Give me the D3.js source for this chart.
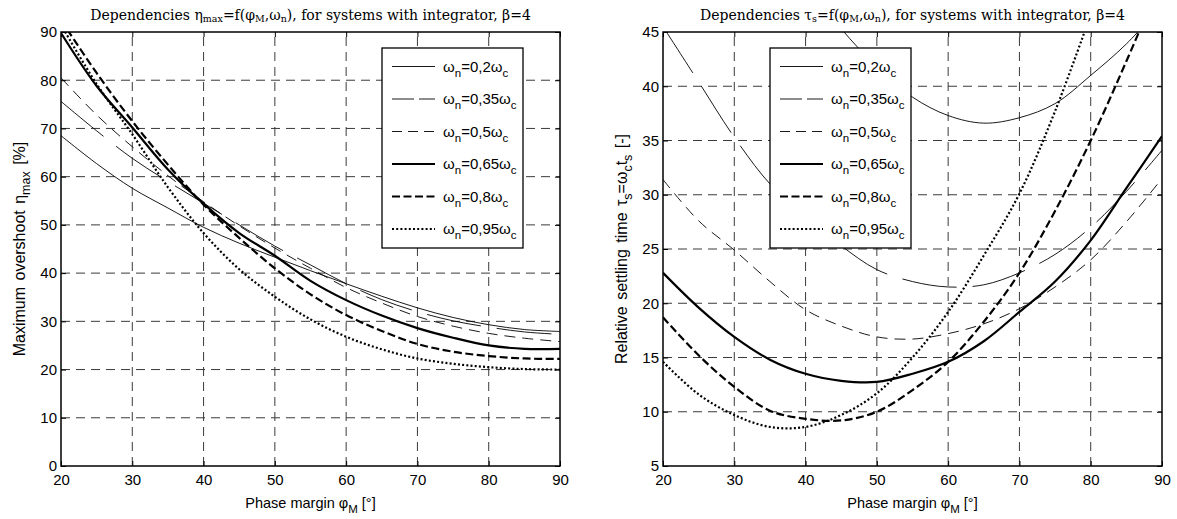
<!DOCTYPE html>
<html>
<head>
<meta charset="utf-8">
<script src="https://cdn.jsdelivr.net/npm/d3@7/dist/d3.min.js"></script>
<style>
  body { margin: 0; background: #fff; }
  text { font-family: "Liberation Sans", Arial, sans-serif; fill: #000; }
  .title { font-family: "DejaVu Serif", "Liberation Serif", serif; }
</style>
</head>
<body>
<script>
// phase margin samples (deg)
const phi = [20, 25, 30, 35, 40, 45, 50, 55, 60, 65, 70, 75, 80, 85, 90];

// maximum overshoot eta_max [%]
const eta02  = [68.5, 62.7, 57.6, 53.5, 49.5, 46.2, 43.3, 40.5, 37.8, 35.2, 32.8, 30.8, 29.3, 28.3, 27.9];
const eta035 = [75.6, 69.5, 63.8, 59.0, 54.5, 50.0, 45.6, 41.7, 37.8, 34.5, 32.0, 30.1, 28.8, 27.8, 27.3];
const eta05  = [80.5, 72.8, 66.2, 60.2, 54.8, 49.8, 45.2, 41.0, 37.0, 33.8, 31.0, 29.0, 27.5, 26.5, 25.8];
const eta065 = [89.8, 78.8, 70.2, 61.5, 54.4, 48.3, 43.6, 38.4, 34.4, 31.2, 28.6, 26.6, 25.0, 24.3, 24.3];
const eta08  = [92.5, 81.5, 71.5, 62.5, 54.2, 47.3, 41.0, 35.6, 31.3, 28.0, 25.3, 23.7, 22.8, 22.3, 22.2];
const eta095 = [91.5, 79.2, 68.8, 57.8, 48.3, 40.8, 35.1, 30.4, 26.8, 24.2, 22.3, 21.2, 20.5, 20.1, 20.0];

// relative settling time tau_s [-]
const tau02  = [null, null, null, null, 49.6, 45.3, 41.8, 39.0, 37.3, 36.6, 37.1, 38.4, 41.0, 43.9, 47.5];
const tau035 = [45.5, 40.4, 35.3, 31.0, 28.0, 25.3, 23.1, 22.0, 21.5, 21.7, 22.8, 24.5, 27.0, 30.3, 34.1];
const tau05  = [31.4, 27.6, 24.9, 22.0, 19.4, 17.9, 16.9, 16.7, 17.2, 18.1, 19.5, 21.5, 24.0, 27.5, 31.5];
const tau065 = [22.8, 19.6, 16.9, 14.8, 13.5, 12.85, 12.75, 13.5, 14.6, 16.5, 19.2, 22.0, 25.8, 30.6, 35.4];
const tau08  = [18.7, 15.2, 12.3, 10.1, 9.35, 9.2, 10.0, 12.0, 14.6, 18.3, 22.8, 28.5, 35.0, 42.3, 50.0];
const tau095 = [14.6, 11.6, 9.7, 8.6, 8.6, 9.7, 11.7, 15.0, 19.2, 24.4, 30.1, 37.7, 46.6, null, null];

const omegaLabels = ["0,2", "0,35", "0,5", "0,65", "0,8", "0,95"];

const xTicks = [20, 30, 40, 50, 60, 70, 80, 90];
const etaTicks = [0, 10, 20, 30, 40, 50, 60, 70, 80, 90];
const tauTicks = [5, 10, 15, 20, 25, 30, 35, 40, 45];

// line styles, same order as omegaLabels
const styles = [
  { w: 0.9, dash: null, legendDash: null },
  { w: 0.9, dash: "55,16", legendDash: "22,5" },
  { w: 0.9, dash: "11,7", legendDash: "10,6" },
  { w: 2.2, dash: null, legendDash: null },
  { w: 2.2, dash: "8,3.5", legendDash: "8,3.5" },
  { w: 2.2, dash: "2,2.2", legendDash: "2,2.2" }
];

const svg = d3.select("body").append("svg")
  .attr("width", 1177)
  .attr("height", 519);

function drawPanel(opts) {
  const x = d3.scaleLinear().domain([20, 90]).range(opts.xRange);
  const y = d3.scaleLinear().domain(opts.yDomain).range([466, 32]);
  const g = svg.append("g");
  const [x0, x1] = opts.xRange;

  // grid
  g.append("g").selectAll("line")
    .data(xTicks.slice(1, -1))
    .enter().append("line")
    .attr("x1", d => x(d)).attr("x2", d => x(d))
    .attr("y1", y.range()[0]).attr("y2", y.range()[1])
    .attr("stroke", "#3a3a3a").attr("stroke-width", 1)
    .attr("stroke-dasharray", "9,6");
  g.append("g").selectAll("line")
    .data(opts.yTicks.slice(1, -1))
    .enter().append("line")
    .attr("x1", x0).attr("x2", x1)
    .attr("y1", d => y(d)).attr("y2", d => y(d))
    .attr("stroke", "#3a3a3a").attr("stroke-width", 1)
    .attr("stroke-dasharray", "9,6");

  // curves
  const clipId = "clip" + opts.id;
  g.append("clipPath").attr("id", clipId)
    .append("rect")
    .attr("x", x0).attr("y", 32)
    .attr("width", x1 - x0).attr("height", 466 - 32);

  const line = d3.line()
    .defined(d => d[1] != null)
    .x(d => x(d[0]))
    .y(d => y(d[1]))
    .curve(d3.curveCatmullRom.alpha(0.5));

  opts.series.forEach((vals, i) => {
    const pts = phi.map((p, j) => [p, vals[j]]);
    g.append("path")
      .attr("clip-path", "url(#" + clipId + ")")
      .attr("d", line(pts))
      .attr("fill", "none")
      .attr("stroke", "#000")
      .attr("stroke-width", styles[i].w)
      .attr("stroke-dasharray", styles[i].dash);
  });

  // axes with inward ticks
  const bottom = g.append("g")
    .attr("transform", "translate(0,466)")
    .call(d3.axisBottom(x).tickValues(xTicks).tickSizeInner(-5).tickSizeOuter(0).tickPadding(8));
  const left = g.append("g")
    .attr("transform", "translate(" + x0 + ",0)")
    .call(d3.axisLeft(y).tickValues(opts.yTicks).tickSizeInner(-5).tickSizeOuter(0).tickPadding(4));
  g.append("g")
    .attr("transform", "translate(0,32)")
    .call(d3.axisTop(x).tickValues(xTicks).tickSizeInner(-5).tickSizeOuter(0).tickFormat(""));
  g.append("g")
    .attr("transform", "translate(" + x1 + ",0)")
    .call(d3.axisRight(y).tickValues(opts.yTicks).tickSizeInner(-5).tickSizeOuter(0).tickFormat(""));
  g.selectAll(".domain").remove();
  g.selectAll(".tick line").attr("stroke", "#000");
  [bottom, left].forEach(a => a.selectAll("text")
    .style("font-family", "'Liberation Sans', Arial, sans-serif")
    .style("font-size", "15px")
    .attr("fill", "#000"));

  // frame
  g.append("rect")
    .attr("x", x0).attr("y", 32)
    .attr("width", x1 - x0).attr("height", 466 - 32)
    .attr("fill", "none").attr("stroke", "#000").attr("stroke-width", 1.5);

  // legend
  const lg = g.append("g").attr("transform", "translate(" + opts.legendX + ",48)");
  lg.append("rect")
    .attr("width", 141).attr("height", 200)
    .attr("fill", "#fff").attr("stroke", "#000").attr("stroke-width", 1.3);
  omegaLabels.forEach((lab, i) => {
    const cy = 18.5 + i * 32.5;
    lg.append("line")
      .attr("x1", 10).attr("x2", 53)
      .attr("y1", cy).attr("y2", cy)
      .attr("stroke", "#000")
      .attr("stroke-width", styles[i].w)
      .attr("stroke-dasharray", styles[i].legendDash);
    const t = lg.append("text")
      .attr("x", 61).attr("y", cy + 5)
      .style("font-size", "15px");
    t.append("tspan").text("ω");
    t.append("tspan").attr("dy", 5).style("font-size", "11.5px").text("n");
    t.append("tspan").attr("dy", -5).text("=" + lab + "ω");
    t.append("tspan").attr("dy", 5).style("font-size", "11.5px").text("c");
  });

  // title
  const cx = (x0 + x1) / 2;
  const title = g.append("text")
    .attr("class", "title")
    .attr("x", cx).attr("y", 20)
    .attr("text-anchor", "middle")
    .style("font-size", "14px");
  opts.title.forEach(part => {
    const s = title.append("tspan").text(part[0]);
    if (part[1]) s.style("font-size", "9.5px").attr("dy", 1.5);
    else if (part[2]) s.attr("dy", -1.5);
  });

  // x label
  const xl = g.append("text")
    .attr("x", cx).attr("y", 508)
    .attr("text-anchor", "middle")
    .style("font-size", "14.5px");
  xl.append("tspan").text("Phase margin φ");
  xl.append("tspan").attr("dy", 5).style("font-size", "11.5px").text("M");
  xl.append("tspan").attr("dy", -5).text(" [°]");

  // y label
  const yl = g.append("text")
    .attr("transform", "translate(" + (x0 - 36) + ",249) rotate(-90)")
    .attr("text-anchor", "middle")
    .style("font-size", "16px")
    .style("word-spacing", "2px");
  opts.yLabel.forEach(part => {
    const s = yl.append("tspan").text(part[0]);
    if (part[1] === "sub") s.attr("dy", 5).style("font-size", "12.5px");
    if (part[1] === "up") s.attr("dy", -5);
  });
}

drawPanel({
  id: "eta",
  xRange: [61, 560],
  yDomain: [0, 90],
  yTicks: etaTicks,
  series: [eta02, eta035, eta05, eta065, eta08, eta095],
  legendX: 382,
  title: [["Dependencies η"], ["max", true], ["=f(φ", false, true], ["M", true], [",ω", false, true], ["n", true], ["), for systems with integrator, β=4", false, true]],
  yLabel: [["Maximum overshoot  η"], ["max", "sub"], [" [%]", "up"]]
});

drawPanel({
  id: "tau",
  xRange: [663, 1162],
  yDomain: [5, 45],
  yTicks: tauTicks,
  series: [tau02, tau035, tau05, tau065, tau08, tau095],
  legendX: 770,
  title: [["Dependencies τ"], ["s", true], ["=f(φ", false, true], ["M", true], [",ω", false, true], ["n", true], ["), for systems with integrator, β=4", false, true]],
  yLabel: [["Relative settling time  τ"], ["s", "sub"], ["=ω", "up"], ["c", "sub"], ["t", "up"], ["s", "sub"], [" [-]", "up"]]
});
</script>
</body>
</html>
